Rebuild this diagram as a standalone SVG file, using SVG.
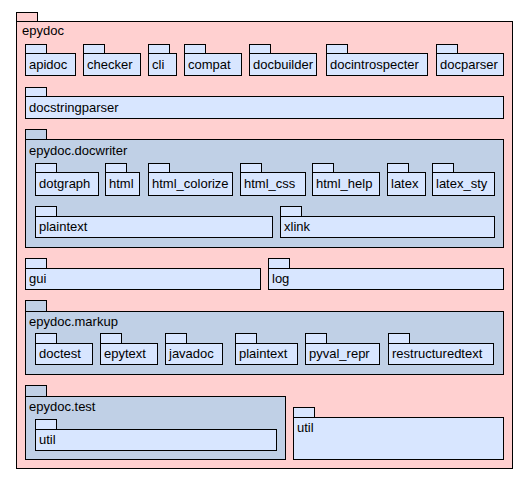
<svg xmlns="http://www.w3.org/2000/svg" width="528" height="480" viewBox="0 0 528 480">
<style>
.sel,.pkg,.mod{stroke:#000;stroke-width:1}
.sel{fill:#ffd0d0}
.pkg{fill:#c0d0e6}
.mod{fill:#d8e6ff}
text{font-family:"Liberation Sans",Arial,sans-serif;font-size:13px;fill:#000}
</style>
<rect width="528" height="480" fill="#fff"/>
<g id="epydoc">
<rect class="sel" x="16.5" y="12.5" width="21" height="9"/>
<rect class="sel" x="16.5" y="21.5" width="496" height="447"/>
<text x="22" y="35">epydoc</text>
</g>
<g id="apidoc"><rect class="mod" x="25.5" y="44.5" width="21" height="9"/><rect class="mod" x="25.5" y="53.5" width="50" height="22"/><text x="29" y="69">apidoc</text></g>
<g id="checker"><rect class="mod" x="83.5" y="44.5" width="21" height="9"/><rect class="mod" x="83.5" y="53.5" width="57" height="22"/><text x="87" y="69">checker</text></g>
<g id="cli"><rect class="mod" x="148.5" y="44.5" width="21" height="9"/><rect class="mod" x="148.5" y="53.5" width="28" height="22"/><text x="152" y="69">cli</text></g>
<g id="compat"><rect class="mod" x="184.5" y="44.5" width="21" height="9"/><rect class="mod" x="184.5" y="53.5" width="57" height="22"/><text x="188" y="69">compat</text></g>
<g id="docbuilder"><rect class="mod" x="249.5" y="44.5" width="21" height="9"/><rect class="mod" x="249.5" y="53.5" width="67" height="22"/><text x="253" y="69">docbuilder</text></g>
<g id="docintrospecter"><rect class="mod" x="326.5" y="44.5" width="21" height="9"/><rect class="mod" x="326.5" y="53.5" width="101" height="22"/><text x="330" y="69">docintrospecter</text></g>
<g id="docparser"><rect class="mod" x="436.5" y="44.5" width="21" height="9"/><rect class="mod" x="436.5" y="53.5" width="67" height="22"/><text x="440" y="69">docparser</text></g>
<g id="docstringparser"><rect class="mod" x="25.5" y="87.5" width="21" height="9"/><rect class="mod" x="25.5" y="96.5" width="478" height="22"/><text x="29" y="112">docstringparser</text></g>
<g id="docwriter">
<rect class="pkg" x="25.5" y="129.5" width="21" height="10"/>
<rect class="pkg" x="25.5" y="139.5" width="478" height="108"/>
<text x="29" y="155">epydoc.docwriter</text>
</g>
<g id="dotgraph"><rect class="mod" x="35.5" y="163.5" width="21" height="9"/><rect class="mod" x="35.5" y="172.5" width="63" height="23"/><text x="39" y="188">dotgraph</text></g>
<g id="html"><rect class="mod" x="105.5" y="163.5" width="21" height="9"/><rect class="mod" x="105.5" y="172.5" width="34" height="23"/><text x="109" y="188">html</text></g>
<g id="html_colorize"><rect class="mod" x="148.5" y="163.5" width="21" height="9"/><rect class="mod" x="148.5" y="172.5" width="84" height="23"/><text x="152" y="188">html_colorize</text></g>
<g id="html_css"><rect class="mod" x="240.5" y="163.5" width="21" height="9"/><rect class="mod" x="240.5" y="172.5" width="65" height="23"/><text x="244" y="188">html_css</text></g>
<g id="html_help"><rect class="mod" x="312.5" y="163.5" width="21" height="9"/><rect class="mod" x="312.5" y="172.5" width="67" height="23"/><text x="316" y="188">html_help</text></g>
<g id="latex"><rect class="mod" x="387.5" y="163.5" width="21" height="9"/><rect class="mod" x="387.5" y="172.5" width="38" height="23"/><text x="391" y="188">latex</text></g>
<g id="latex_sty"><rect class="mod" x="432.5" y="163.5" width="21" height="9"/><rect class="mod" x="432.5" y="172.5" width="62" height="23"/><text x="436" y="188">latex_sty</text></g>
<g id="docwriter_plaintext"><rect class="mod" x="35.5" y="206.5" width="21" height="10"/><rect class="mod" x="35.5" y="216.5" width="237" height="21"/><text x="39" y="231">plaintext</text></g>
<g id="xlink"><rect class="mod" x="280.5" y="206.5" width="21" height="10"/><rect class="mod" x="280.5" y="216.5" width="214" height="21"/><text x="284" y="231">xlink</text></g>
<g id="gui"><rect class="mod" x="25.5" y="258.5" width="21" height="10"/><rect class="mod" x="25.5" y="268.5" width="235" height="21"/><text x="29" y="283">gui</text></g>
<g id="log"><rect class="mod" x="268.5" y="258.5" width="21" height="10"/><rect class="mod" x="268.5" y="268.5" width="235" height="21"/><text x="272" y="283">log</text></g>
<g id="markup">
<rect class="pkg" x="25.5" y="300.5" width="21" height="11"/>
<rect class="pkg" x="25.5" y="311.5" width="478" height="63"/>
<text x="29" y="326">epydoc.markup</text>
</g>
<g id="doctest"><rect class="mod" x="35.5" y="333.5" width="21" height="10"/><rect class="mod" x="35.5" y="343.5" width="57" height="21"/><text x="39" y="358">doctest</text></g>
<g id="epytext"><rect class="mod" x="100.5" y="333.5" width="21" height="10"/><rect class="mod" x="100.5" y="343.5" width="57" height="21"/><text x="104" y="358">epytext</text></g>
<g id="javadoc"><rect class="mod" x="165.5" y="333.5" width="21" height="10"/><rect class="mod" x="165.5" y="343.5" width="57" height="21"/><text x="169" y="358">javadoc</text></g>
<g id="markup_plaintext"><rect class="mod" x="235.5" y="333.5" width="21" height="10"/><rect class="mod" x="235.5" y="343.5" width="62" height="21"/><text x="239" y="358">plaintext</text></g>
<g id="pyval_repr"><rect class="mod" x="305.5" y="333.5" width="21" height="10"/><rect class="mod" x="305.5" y="343.5" width="74" height="21"/><text x="309" y="358">pyval_repr</text></g>
<g id="restructuredtext"><rect class="mod" x="388.5" y="333.5" width="21" height="10"/><rect class="mod" x="388.5" y="343.5" width="105" height="21"/><text x="392" y="358">restructuredtext</text></g>
<g id="test">
<rect class="pkg" x="25.5" y="385.5" width="21" height="11"/>
<rect class="pkg" x="25.5" y="396.5" width="260" height="63"/>
<text x="29" y="411">epydoc.test</text>
</g>
<g id="test_util"><rect class="mod" x="35.5" y="419.5" width="21" height="10"/><rect class="mod" x="35.5" y="429.5" width="241" height="21"/><text x="39" y="444">util</text></g>
<g id="util"><rect class="mod" x="293.5" y="407.5" width="21" height="10"/><rect class="mod" x="293.5" y="417.5" width="210" height="42"/><text x="297" y="432">util</text></g>
<g id="connectors"></g>
</svg>
